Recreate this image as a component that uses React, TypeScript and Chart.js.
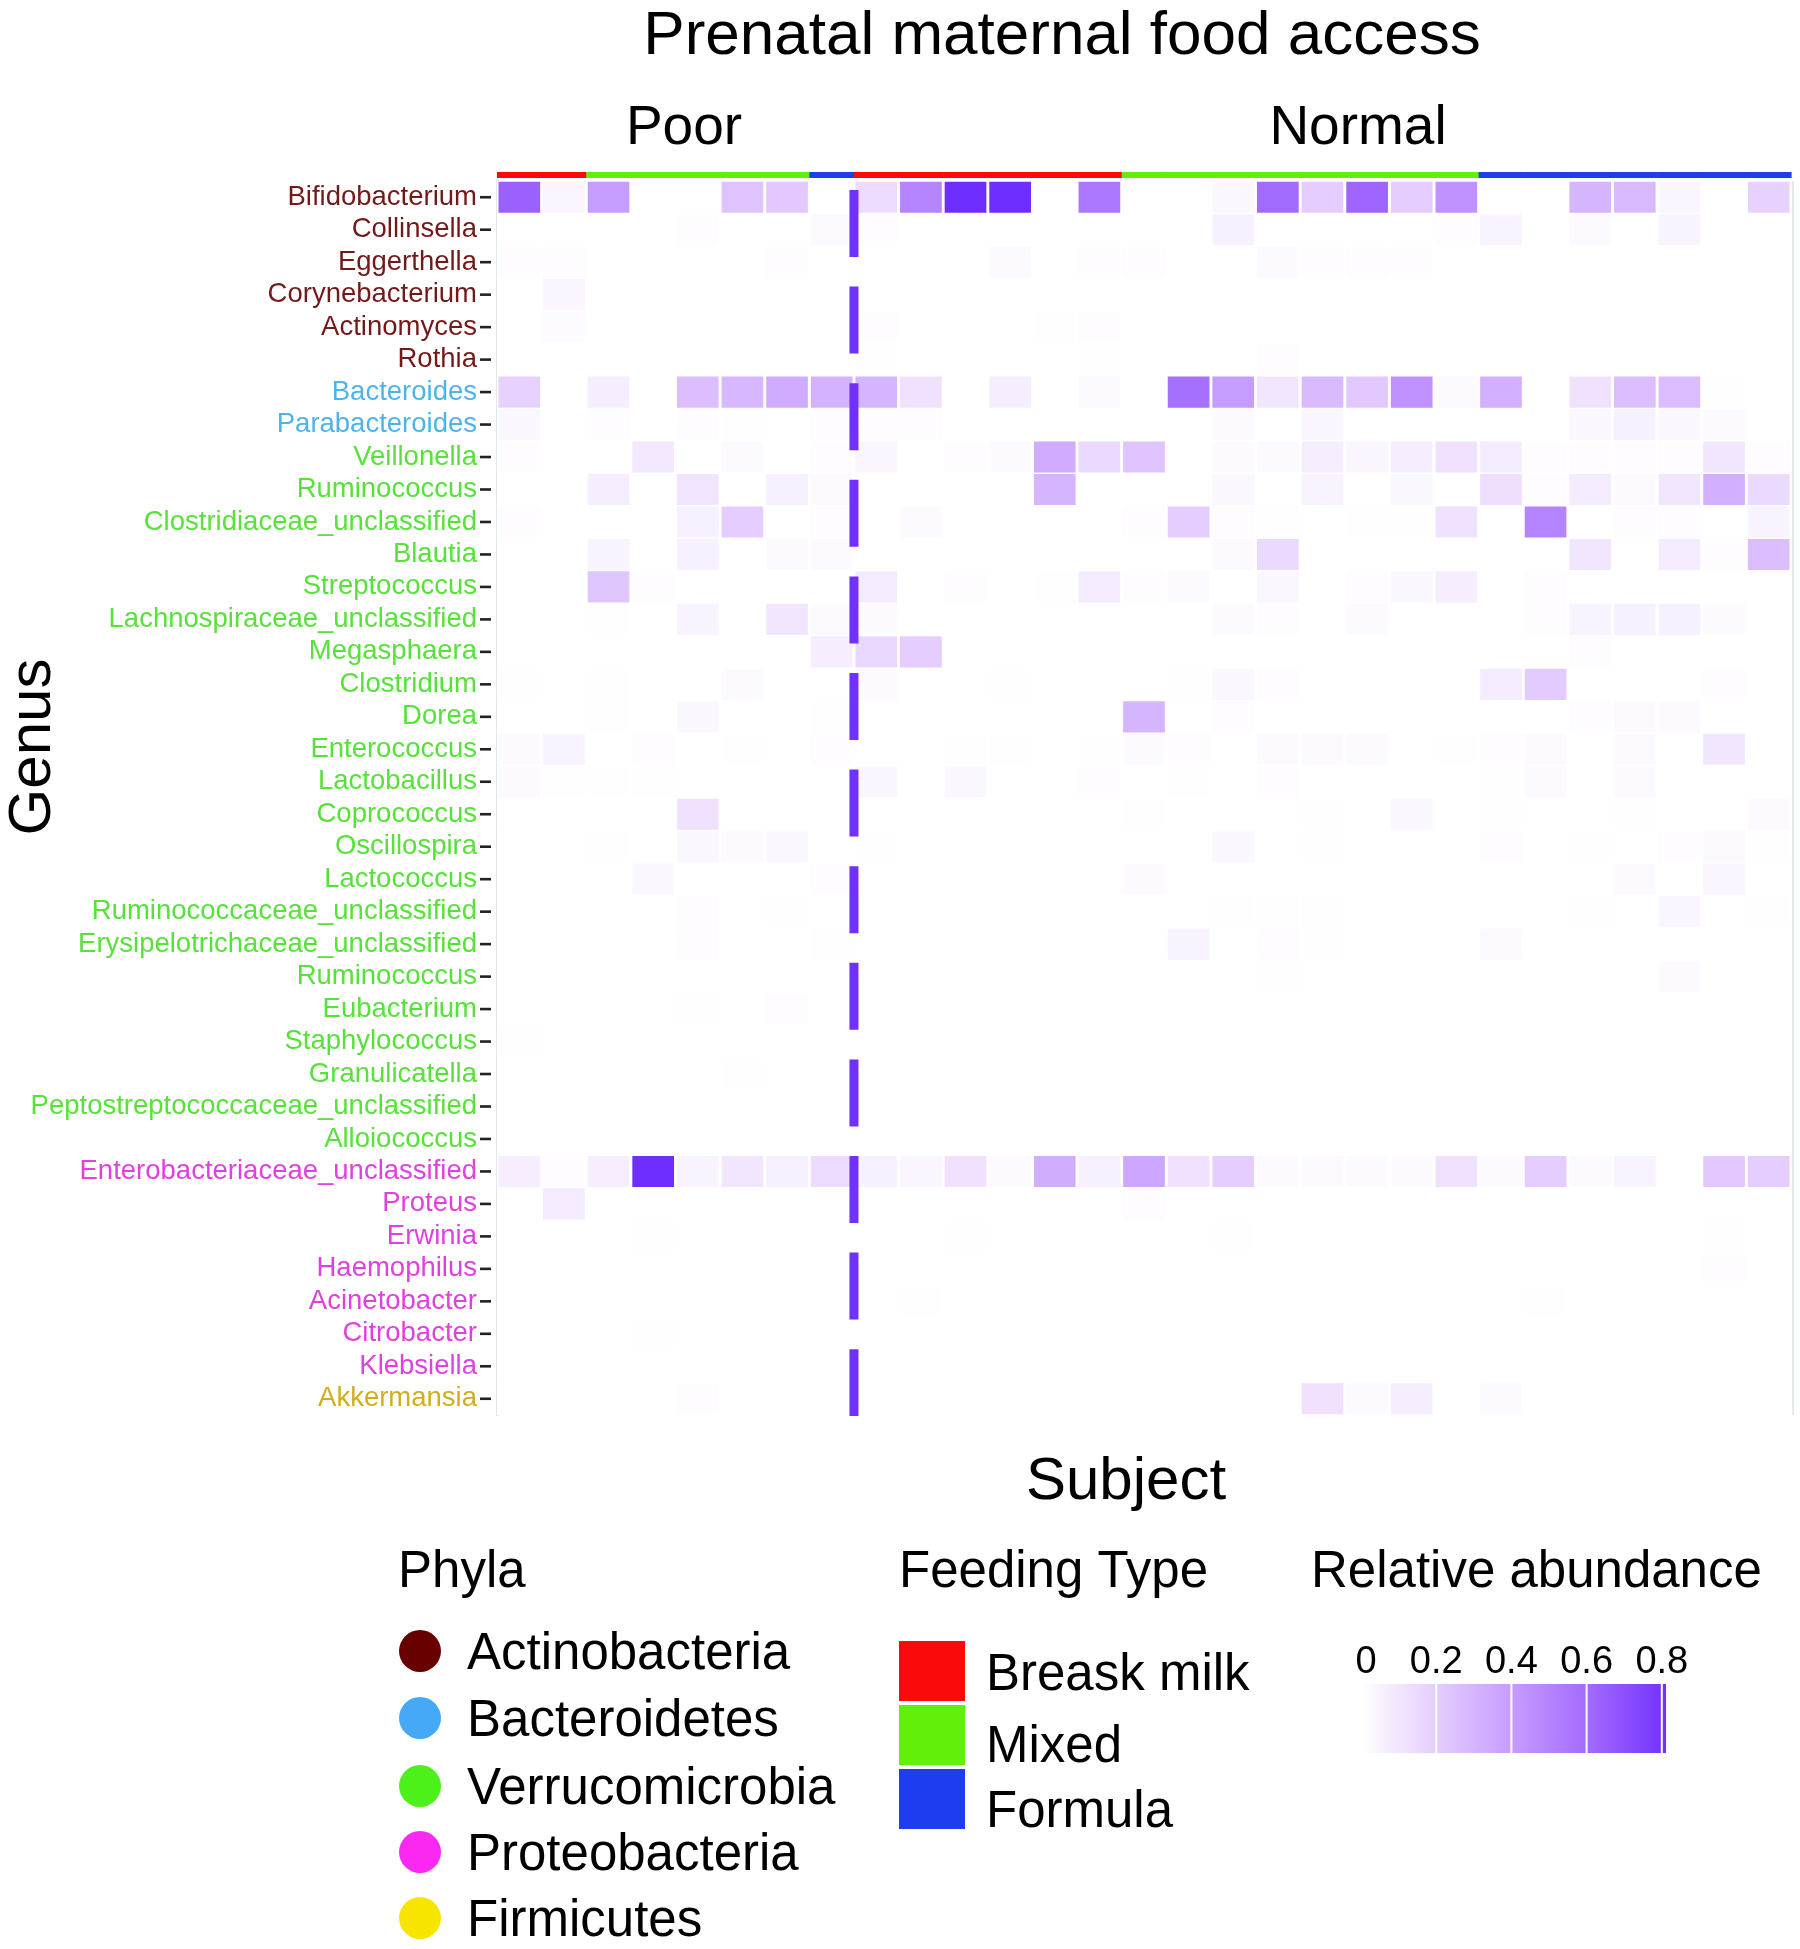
import { useEffect, useRef } from 'react';
import { Chart, registerables } from 'chart.js';

Chart.register(...registerables);

// ---------------- DATA ----------------
const genera = [
  'Bifidobacterium', 'Collinsella', 'Eggerthella', 'Corynebacterium', 'Actinomyces', 'Rothia',
  'Bacteroides', 'Parabacteroides',
  'Veillonella', 'Ruminococcus', 'Clostridiaceae_unclassified', 'Blautia', 'Streptococcus',
  'Lachnospiraceae_unclassified', 'Megasphaera', 'Clostridium', 'Dorea', 'Enterococcus',
  'Lactobacillus', 'Coprococcus', 'Oscillospira', 'Lactococcus', 'Ruminococcaceae_unclassified',
  'Erysipelotrichaceae_unclassified', 'Ruminococcus', 'Eubacterium', 'Staphylococcus',
  'Granulicatella', 'Peptostreptococcaceae_unclassified', 'Alloiococcus',
  'Enterobacteriaceae_unclassified', 'Proteus', 'Erwinia', 'Haemophilus', 'Acinetobacter',
  'Citrobacter', 'Klebsiella',
  'Akkermansia',
];

// phylum group of each genus label (as coloured in the figure)
const generaPhylum = [
  'Actinobacteria', 'Actinobacteria', 'Actinobacteria', 'Actinobacteria', 'Actinobacteria', 'Actinobacteria',
  'Bacteroidetes', 'Bacteroidetes',
  'Verrucomicrobia', 'Verrucomicrobia', 'Verrucomicrobia', 'Verrucomicrobia', 'Verrucomicrobia',
  'Verrucomicrobia', 'Verrucomicrobia', 'Verrucomicrobia', 'Verrucomicrobia', 'Verrucomicrobia',
  'Verrucomicrobia', 'Verrucomicrobia', 'Verrucomicrobia', 'Verrucomicrobia', 'Verrucomicrobia',
  'Verrucomicrobia', 'Verrucomicrobia', 'Verrucomicrobia', 'Verrucomicrobia',
  'Verrucomicrobia', 'Verrucomicrobia', 'Verrucomicrobia',
  'Proteobacteria', 'Proteobacteria', 'Proteobacteria', 'Proteobacteria', 'Proteobacteria',
  'Proteobacteria', 'Proteobacteria',
  'Firmicutes',
];

const phyla = ['Actinobacteria', 'Bacteroidetes', 'Verrucomicrobia', 'Proteobacteria', 'Firmicutes'];
const phylaColors = ['#690000', '#45A9F7', '#4DF018', '#FA28F0', '#F7E500'];
const phylaTextColors = ['#741919', '#4BB4EC', '#57E23A', '#E040E0', '#D2AE1E'];

// subjects (columns): prenatal food access group and feeding type
const foodAccess = [
  'Poor', 'Poor', 'Poor', 'Poor', 'Poor', 'Poor', 'Poor', 'Poor',
  'Normal', 'Normal', 'Normal', 'Normal', 'Normal', 'Normal', 'Normal', 'Normal', 'Normal', 'Normal',
  'Normal', 'Normal', 'Normal', 'Normal', 'Normal', 'Normal', 'Normal', 'Normal', 'Normal', 'Normal', 'Normal',
];
const foodAccessGroups = ['Poor', 'Normal'];

const feedingTypes = ['Breask milk', 'Mixed', 'Formula'];
const feedingColors = ['#FA0A0A', '#62F00A', '#1E3CF0'];
const feedingType = [
  'Breask milk', 'Breask milk', 'Mixed', 'Mixed', 'Mixed', 'Mixed', 'Mixed', 'Formula',
  'Breask milk', 'Breask milk', 'Breask milk', 'Breask milk', 'Breask milk', 'Breask milk',
  'Mixed', 'Mixed', 'Mixed', 'Mixed', 'Mixed', 'Mixed', 'Mixed', 'Mixed',
  'Formula', 'Formula', 'Formula', 'Formula', 'Formula', 'Formula', 'Formula',
];

const legendTicks = [0, 0.2, 0.4, 0.6, 0.8];

// relative abundance per genus, columns grouped: poor-BM(2) poor-mixed(5) poor-formula(1) | normal-BM(6) normal-mixed(8) normal-formula(7)
const bifidobacterium = [0.64, 0.04, 0.4, 0, 0, 0.24, 0.22, 0, 0.14, 0.5, 0.82, 0.82, 0, 0.55, 0, 0, 0.03, 0.6, 0.2, 0.62, 0.2, 0.44, 0, 0, 0.3, 0.28, 0.04, 0, 0.18];
const collinsella = [0, 0, 0, 0, 0.01, 0, 0, 0.02, 0.01, 0, 0, 0, 0, 0, 0, 0, 0.06, 0, 0, 0, 0, 0.01, 0.05, 0, 0.02, 0, 0.05, 0, 0];
const eggerthella = [0.01, 0.01, 0, 0, 0, 0, 0.01, 0, 0, 0, 0, 0.02, 0, 0.01, 0.01, 0, 0, 0.02, 0.01, 0.01, 0.01, 0, 0, 0, 0, 0, 0, 0, 0];
const corynebacterium = [0, 0.04, 0, 0, 0, 0, 0, 0, 0, 0, 0, 0, 0, 0, 0, 0, 0, 0, 0, 0, 0, 0, 0, 0, 0, 0, 0, 0, 0];
const actinomyces = [0, 0.015, 0, 0, 0, 0, 0, 0, 0.01, 0, 0, 0, 0.005, 0.01, 0, 0, 0, 0, 0, 0, 0, 0, 0, 0, 0, 0, 0, 0, 0];
const rothia = [0, 0, 0, 0, 0, 0, 0, 0, 0.005, 0, 0, 0, 0, 0.005, 0, 0, 0, 0.01, 0, 0, 0, 0, 0, 0, 0, 0, 0, 0, 0];
const bacteroides = [0.18, 0, 0.07, 0, 0.26, 0.29, 0.34, 0.31, 0.3, 0.12, 0, 0.07, 0, 0.02, 0, 0.58, 0.4, 0.1, 0.28, 0.22, 0.44, 0.02, 0.32, 0, 0.12, 0.26, 0.27, 0.005, 0];
const parabacteroides = [0.03, 0, 0.01, 0, 0.01, 0.005, 0, 0.01, 0.01, 0.01, 0, 0, 0, 0, 0, 0, 0.02, 0, 0.04, 0, 0, 0, 0, 0, 0.03, 0.06, 0.03, 0.02, 0];
const veillonella = [0.01, 0, 0, 0.09, 0, 0.02, 0, 0.01, 0.04, 0, 0.01, 0.02, 0.34, 0.15, 0.24, 0, 0.02, 0.02, 0.07, 0.04, 0.07, 0.12, 0.08, 0.01, 0.01, 0.01, 0.01, 0.1, 0.01];
const ruminococcus = [0, 0, 0.07, 0, 0.11, 0, 0.06, 0.02, 0, 0, 0, 0, 0.3, 0, 0, 0, 0.03, 0, 0.05, 0, 0.03, 0, 0.13, 0.01, 0.08, 0.02, 0.1, 0.32, 0.15];
const clostridiaceaeUnclassified = [0.01, 0, 0, 0, 0.06, 0.2, 0, 0.01, 0, 0.02, 0, 0, 0, 0, 0.01, 0.2, 0.01, 0.005, 0, 0.005, 0.005, 0.12, 0, 0.5, 0, 0.01, 0.01, 0, 0.05];
const blautia = [0, 0, 0.05, 0, 0.06, 0, 0.02, 0.02, 0, 0, 0, 0, 0, 0, 0, 0, 0.02, 0.15, 0, 0, 0, 0, 0, 0, 0.1, 0, 0.08, 0.01, 0.26];
const streptococcus = [0, 0, 0.23, 0.01, 0, 0, 0, 0, 0.08, 0, 0.01, 0, 0.005, 0.08, 0.01, 0.02, 0, 0.03, 0, 0.01, 0.03, 0.07, 0, 0.01, 0, 0, 0, 0, 0];
const lachnospiraceaeUnclassified = [0, 0, 0.005, 0, 0.05, 0, 0.1, 0.02, 0.02, 0, 0, 0, 0, 0, 0, 0, 0.02, 0.01, 0, 0.02, 0, 0, 0, 0.01, 0.05, 0.06, 0.06, 0.02, 0];
const megasphaera = [0, 0, 0, 0, 0, 0, 0, 0.07, 0.16, 0.2, 0, 0, 0, 0, 0, 0, 0, 0, 0, 0, 0, 0, 0, 0, 0.01, 0, 0, 0, 0];
const clostridium = [0.005, 0, 0.005, 0, 0, 0.02, 0, 0, 0.02, 0, 0, 0.005, 0, 0, 0, 0.005, 0.03, 0.01, 0, 0, 0, 0, 0.08, 0.21, 0, 0, 0, 0.01, 0];
const dorea = [0, 0, 0.005, 0, 0.03, 0, 0, 0.005, 0, 0, 0, 0, 0, 0, 0.3, 0, 0.01, 0, 0, 0, 0, 0, 0, 0, 0.01, 0.02, 0.02, 0, 0];
const enterococcus = [0.02, 0.05, 0, 0.01, 0, 0.005, 0, 0.01, 0, 0, 0.005, 0.005, 0, 0.005, 0.02, 0.01, 0, 0.02, 0.02, 0.02, 0, 0.005, 0.01, 0.02, 0, 0.02, 0, 0.1, 0];
const lactobacillus = [0.02, 0.005, 0.005, 0.005, 0, 0, 0, 0, 0.04, 0, 0.03, 0, 0, 0.01, 0, 0.005, 0, 0.01, 0, 0, 0, 0, 0.005, 0.02, 0, 0.02, 0, 0, 0];
const coprococcus = [0, 0, 0, 0, 0.12, 0, 0, 0, 0, 0, 0, 0, 0, 0, 0.005, 0, 0, 0, 0.005, 0, 0.03, 0, 0.005, 0, 0, 0.005, 0, 0, 0.02];
const oscillospira = [0, 0, 0.005, 0, 0.03, 0.02, 0.03, 0, 0.005, 0, 0, 0, 0, 0, 0, 0, 0.03, 0, 0.005, 0, 0, 0, 0.01, 0, 0.005, 0, 0.01, 0.02, 0.005];
const lactococcus = [0, 0, 0, 0.03, 0, 0, 0, 0.01, 0, 0, 0, 0, 0, 0, 0.02, 0, 0, 0, 0, 0, 0, 0, 0, 0, 0, 0.02, 0, 0.04, 0];
const ruminococcaceaeUnclassified = [0, 0, 0, 0, 0.01, 0, 0.005, 0, 0, 0, 0, 0, 0, 0, 0, 0, 0.005, 0.005, 0.005, 0, 0, 0, 0, 0, 0.005, 0, 0.04, 0, 0.005];
const erysipelotrichaceaeUnclassified = [0, 0, 0, 0, 0.01, 0, 0, 0.005, 0, 0, 0, 0, 0, 0, 0, 0.05, 0, 0.01, 0.005, 0, 0, 0, 0.02, 0, 0, 0, 0, 0, 0];
const ruminococcus2 = [0, 0, 0, 0, 0, 0, 0, 0, 0, 0, 0, 0, 0, 0, 0, 0, 0, 0.005, 0, 0, 0, 0, 0, 0, 0, 0, 0.02, 0, 0];
const eubacterium = [0, 0, 0, 0, 0.005, 0, 0.01, 0, 0, 0, 0, 0, 0, 0, 0, 0, 0, 0, 0, 0, 0, 0, 0, 0, 0, 0, 0, 0, 0];
const staphylococcus = [0.005, 0, 0, 0, 0, 0, 0, 0, 0, 0, 0, 0, 0, 0, 0, 0, 0, 0, 0, 0, 0, 0, 0, 0, 0, 0, 0, 0, 0];
const granulicatella = [0, 0, 0, 0, 0, 0.005, 0, 0, 0, 0, 0, 0, 0, 0, 0, 0, 0, 0, 0, 0, 0, 0, 0, 0, 0, 0, 0, 0, 0];
const peptostreptococcaceaeUnclassified = [0, 0, 0, 0, 0, 0, 0, 0, 0, 0, 0, 0, 0, 0, 0, 0, 0, 0, 0, 0, 0, 0, 0, 0, 0, 0, 0, 0, 0];
const alloiococcus = [0, 0, 0, 0, 0, 0, 0, 0, 0, 0, 0, 0, 0, 0, 0, 0, 0, 0, 0, 0, 0, 0, 0, 0, 0, 0, 0, 0, 0];
const enterobacteriaceaeUnclassified = [0.07, 0.01, 0.07, 0.82, 0.05, 0.1, 0.06, 0.14, 0.06, 0.04, 0.12, 0.02, 0.33, 0.06, 0.36, 0.12, 0.2, 0.02, 0.02, 0.02, 0.02, 0.12, 0.02, 0.2, 0.02, 0.05, 0, 0.22, 0.2];
const proteus = [0, 0.08, 0, 0, 0, 0, 0, 0, 0, 0, 0, 0, 0, 0, 0.01, 0, 0, 0, 0, 0, 0, 0, 0, 0, 0, 0, 0, 0, 0];
const erwinia = [0, 0, 0, 0.005, 0, 0, 0, 0, 0, 0, 0.005, 0, 0, 0, 0, 0, 0.005, 0, 0, 0, 0, 0, 0, 0, 0, 0, 0, 0.005, 0];
const haemophilus = [0, 0, 0, 0, 0, 0, 0, 0, 0, 0, 0, 0, 0, 0, 0, 0, 0, 0, 0, 0, 0, 0, 0, 0, 0, 0, 0, 0.01, 0];
const acinetobacter = [0, 0, 0, 0, 0, 0, 0, 0, 0, 0.005, 0, 0, 0, 0, 0, 0, 0, 0, 0, 0, 0, 0, 0, 0.005, 0, 0, 0, 0, 0];
const citrobacter = [0, 0, 0, 0.005, 0, 0, 0, 0, 0, 0, 0, 0, 0, 0, 0, 0, 0, 0, 0, 0, 0, 0, 0, 0, 0, 0, 0, 0, 0];
const klebsiella = [0, 0, 0, 0, 0, 0, 0, 0, 0, 0, 0, 0, 0, 0, 0, 0, 0, 0, 0, 0, 0, 0, 0, 0, 0, 0, 0, 0, 0];
const akkermansia = [0, 0, 0, 0, 0.01, 0, 0, 0, 0, 0, 0, 0, 0, 0, 0, 0, 0, 0, 0.12, 0.02, 0.07, 0, 0.02, 0, 0, 0, 0, 0, 0];

const abundanceRows = [
  bifidobacterium, collinsella, eggerthella, corynebacterium, actinomyces, rothia,
  bacteroides, parabacteroides,
  veillonella, ruminococcus, clostridiaceaeUnclassified, blautia, streptococcus,
  lachnospiraceaeUnclassified, megasphaera, clostridium, dorea, enterococcus,
  lactobacillus, coprococcus, oscillospira, lactococcus, ruminococcaceaeUnclassified,
  erysipelotrichaceaeUnclassified, ruminococcus2, eubacterium, staphylococcus,
  granulicatella, peptostreptococcaceaeUnclassified, alloiococcus,
  enterobacteriaceaeUnclassified, proteus, erwinia, haemophilus, acinetobacter,
  citrobacter, klebsiella,
  akkermansia,
];

// ---------------- STYLE ----------------
const FONT = '"Liberation Sans", Arial, Helvetica, sans-serif';
const HIGH_COLOR = '#6E2EFF';
const SCALE_MAX = 0.82;

function toLinear(c: number) {
  const v = c / 255;
  return v <= 0.04045 ? v / 12.92 : Math.pow((v + 0.055) / 1.055, 2.4);
}
function toSrgb(c: number) {
  const v = c <= 0.0031308 ? 12.92 * c : 1.055 * Math.pow(c, 1 / 2.4) - 0.055;
  return Math.round(Math.max(0, Math.min(1, v)) * 255);
}
function hexToRgb(h: string) {
  return [parseInt(h.slice(1, 3), 16), parseInt(h.slice(3, 5), 16), parseInt(h.slice(5, 7), 16)];
}
function rgbToLab(rgb: number[]) {
  const [R, G, B] = rgb.map(toLinear);
  const X = (0.4124 * R + 0.3576 * G + 0.1805 * B) / 0.95047;
  const Y = 0.2126 * R + 0.7152 * G + 0.0722 * B;
  const Z = (0.0193 * R + 0.1192 * G + 0.9505 * B) / 1.08883;
  const f = (t: number) => (t > 0.008856 ? Math.cbrt(t) : 7.787 * t + 16 / 116);
  const fx = f(X), fy = f(Y), fz = f(Z);
  return [116 * fy - 16, 500 * (fx - fy), 200 * (fy - fz)];
}
function labToRgb(lab: number[]) {
  const [L, a, b] = lab;
  const fy = (L + 16) / 116, fx = fy + a / 500, fz = fy - b / 200;
  const inv = (t: number) => (t * t * t > 0.008856 ? t * t * t : (t - 16 / 116) / 7.787);
  const X = 0.95047 * inv(fx), Y = inv(fy), Z = 1.08883 * inv(fz);
  const R = 3.2406 * X - 1.5372 * Y - 0.4986 * Z;
  const G = -0.9689 * X + 1.8758 * Y + 0.0415 * Z;
  const B = 0.0557 * X - 0.204 * Y + 1.057 * Z;
  return [toSrgb(R), toSrgb(G), toSrgb(B)];
}
const LOW_LAB = rgbToLab([255, 255, 255]);
const HIGH_LAB = rgbToLab(hexToRgb(HIGH_COLOR));
function colorFor(v: number) {
  const t = Math.max(0, Math.min(1, v / SCALE_MAX));
  const lab = LOW_LAB.map((w, i) => w + (HIGH_LAB[i] - w) * t);
  const [r, g, b] = labToRgb(lab);
  return `rgb(${r},${g},${b})`;
}

const labelColors = generaPhylum.map((p) => phylaTextColors[phyla.indexOf(p)]);

const decorPlugin = {
  id: 'decor',
  afterDraw(chart: any) {
    const { ctx, chartArea, scales } = chart;
    const xs = scales.x;
    const ys = scales.y;
    ctx.save();

    // feeding-type colour strip above heatmap
    feedingType.forEach((ft, c) => {
      const x0 = xs.getPixelForValue(c);
      const x1 = xs.getPixelForValue(c + 1);
      ctx.fillStyle = feedingColors[feedingTypes.indexOf(ft)];
      ctx.fillRect(x0, chartArea.top - 9, x1 - x0 + 0.6, 6);
    });

    // dashed separator between groups
    const split = foodAccess.indexOf('Normal');
    const xs0 = xs.getPixelForValue(split);
    ctx.strokeStyle = '#7030FF';
    ctx.lineWidth = 9;
    ctx.setLineDash([67, 29.6]);
    ctx.beginPath();
    ctx.moveTo(xs0, chartArea.top + 9);
    ctx.lineTo(xs0, chartArea.bottom + 1);
    ctx.stroke();
    ctx.setLineDash([]);

    // y tick marks
    ctx.fillStyle = '#222';
    ys.ticks.forEach((_: any, i: number) => {
      const y = ys.getPixelForTick(i);
      ctx.fillRect(chartArea.left - 17, y - 1.3, 11, 2.6);
    });

    // right panel edge
    ctx.fillStyle = '#E4E9E9';
    ctx.fillRect(chartArea.right + 1, chartArea.top, 2, chartArea.bottom - chartArea.top);

    ctx.fillStyle = '#000';
    ctx.textAlign = 'center';
    ctx.textBaseline = 'alphabetic';

    // title
    ctx.font = `62px ${FONT}`;
    ctx.fillText('Prenatal maternal food access', 1062, 54);

    // facet labels
    ctx.font = `55px ${FONT}`;
    const facetX = [684, 1358];
    foodAccessGroups.forEach((g, i) => ctx.fillText(g, facetX[i], 144));

    // axis titles
    ctx.font = `60px ${FONT}`;
    ctx.fillText('Subject', 1126, 1499);
    ctx.save();
    ctx.translate(50, 747);
    ctx.rotate(-Math.PI / 2);
    ctx.fillText('Genus', 0, 0);
    ctx.restore();

    // legend titles
    ctx.textAlign = 'left';
    ctx.font = `51px ${FONT}`;
    ctx.fillText('Phyla', 398, 1587);
    ctx.fillText('Feeding Type', 899, 1587);
    ctx.fillText('Relative abundance', 1311, 1587);

    // phyla legend
    const phylaY = [1651, 1718, 1786, 1852, 1918];
    phyla.forEach((p, i) => {
      ctx.fillStyle = phylaColors[i];
      ctx.beginPath();
      ctx.arc(420, phylaY[i], 21, 0, Math.PI * 2);
      ctx.fill();
      ctx.fillStyle = '#000';
      ctx.fillText(p, 467, phylaY[i] + 18);
    });

    // feeding type legend
    const sqTop = [1641, 1705, 1769];
    const ftLabelY = [1672, 1744, 1809];
    feedingTypes.forEach((f, i) => {
      ctx.fillStyle = feedingColors[i];
      ctx.fillRect(899, sqTop[i], 66, 60);
      ctx.fillStyle = '#000';
      ctx.fillText(f, 986, ftLabelY[i] + 18);
    });

    // colour bar
    const lx = (v: number) => 1361 + v * 376;
    const barL = 1364, barR = 1666, barT = 1684, barB = 1753;
    const grad = ctx.createLinearGradient(barL, 0, barR, 0);
    for (let k = 0; k <= 24; k++) {
      const px = barL + (k / 24) * (barR - barL);
      grad.addColorStop(k / 24, colorFor((px - 1361) / 376));
    }
    ctx.fillStyle = grad;
    ctx.fillRect(barL, barT, barR - barL, barB - barT);
    ctx.fillStyle = '#fff';
    legendTicks.forEach((t) => {
      if (t > 0) ctx.fillRect(lx(t) - 1, barT, 2, barB - barT);
    });
    ctx.fillStyle = '#000';
    ctx.textAlign = 'center';
    ctx.font = `38px ${FONT}`;
    legendTicks.forEach((t) => {
      ctx.fillText(String(t), lx(t) + (t === 0 ? 5 : 0), 1673);
    });

    ctx.restore();
  },
};

export default function App() {
  const ref = useRef<HTMLCanvasElement>(null);

  useEffect(() => {
    if (!ref.current) return;
    Chart.defaults.font.family = FONT;
    const datasets = foodAccess.map((_, c) => ({
      label: `Subject ${c + 1}`,
      data: genera.map(() => 1),
      backgroundColor: abundanceRows.map((row) => colorFor(row[c])),
      borderColor: '#ffffff',
      borderWidth: { left: 1.8, right: 1.8, top: 1, bottom: 1 },
      borderSkipped: false as const,
      categoryPercentage: 1,
      barPercentage: 1,
    }));

    const chart = new Chart(ref.current, {
      type: 'bar',
      data: { labels: genera, datasets },
      options: {
        indexAxis: 'y',
        animation: false,
        responsive: false,
        devicePixelRatio: 1,
        layout: { padding: { top: 181, bottom: 534, left: 0, right: 9 } },
        plugins: {
          legend: { display: false },
          tooltip: { enabled: false },
          title: { display: false },
        },
        scales: {
          x: {
            type: 'linear',
            min: 0,
            max: foodAccess.length,
            stacked: true,
            display: false,
          },
          y: {
            type: 'category',
            stacked: true,
            offset: true,
            afterFit: (axis: any) => {
              axis.width = 497;
            },
            grid: { display: false, drawTicks: false },
            border: { display: true, color: '#E2E8E8', width: 3 },
            ticks: {
              autoSkip: false,
              padding: 20,
              font: { size: 27.5, family: FONT },
              color: (c: any) => labelColors[c.index],
            },
          },
        },
      },
      plugins: [decorPlugin],
    } as any);

    return () => chart.destroy();
  }, []);

  return (
    <div style={{ position: 'absolute', left: 0, top: 0, width: 1800, height: 1949, background: '#fff' }}>
      <canvas ref={ref} width={1800} height={1949} style={{ display: 'block', width: 1800, height: 1949 }} />
    </div>
  );
}
